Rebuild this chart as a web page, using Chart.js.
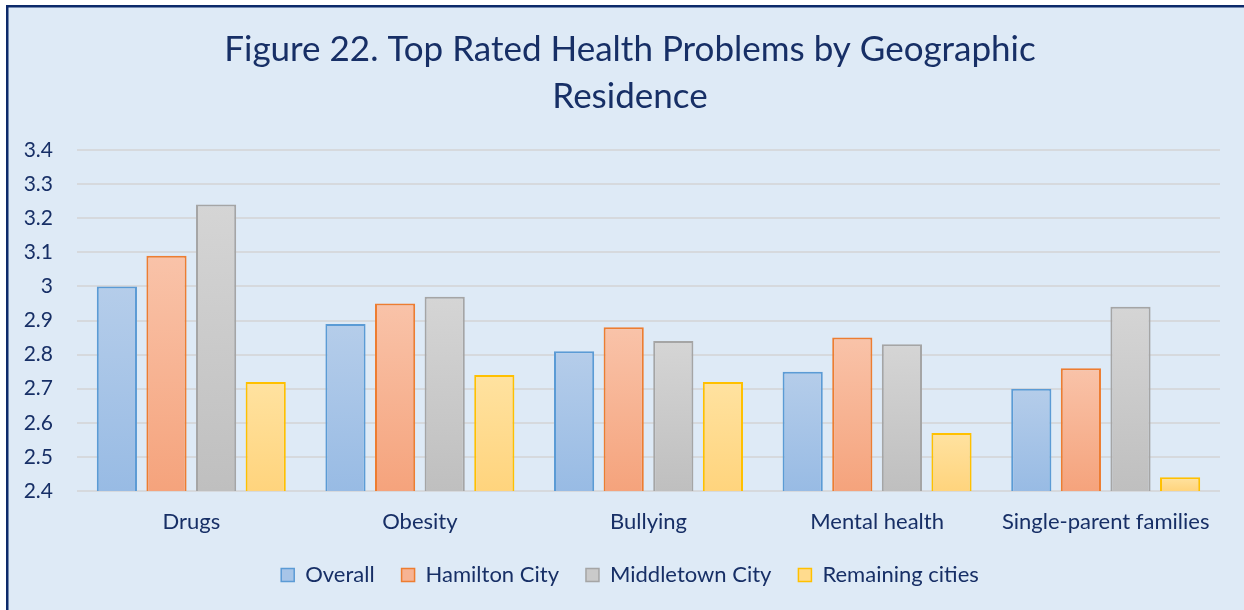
<!DOCTYPE html>
<html>
<head>
<meta charset="utf-8">
<script src="https://cdn.jsdelivr.net/npm/chart.js@4.4.0/dist/chart.umd.min.js"></script>
<style>
  html, body { margin: 0; padding: 0; background: #ffffff; }
  #wrap { position: relative; width: 1244px; height: 610px; }
</style>
</head>
<body>
<div id="wrap"><canvas id="c" width="1244" height="610"></canvas></div>
<script>
const titleLines = ["Figure 22. Top Rated Health Problems by Geographic", "Residence"];
const categories = ["Drugs", "Obesity", "Bullying", "Mental health", "Single-parent families"];
const seriesNames = ["Overall", "Hamilton City", "Middletown City", "Remaining cities"];
const overall = [3.00, 2.89, 2.81, 2.75, 2.70];
const hamilton = [3.09, 2.95, 2.88, 2.85, 2.76];
const middletown = [3.24, 2.97, 2.84, 2.83, 2.94];
const remaining = [2.72, 2.74, 2.72, 2.57, 2.44];
const yMin = 2.4, yMax = 3.4, yStep = 0.1;

const FONT = "Lato";
const NAVY = "#172f66";
const palette = [
  { top: "#b5cdea", bottom: "#98bbe4", border: "#5b9bd5", solid: "#a7c5e8" },
  { top: "#f9c3a9", bottom: "#f5a37c", border: "#ed7d31", solid: "#f7b393" },
  { top: "#d5d5d5", bottom: "#bfbfbf", border: "#a5a5a5", solid: "#cacaca" },
  { top: "#ffe2a0", bottom: "#ffd47d", border: "#ffc000", solid: "#ffdb8e" }
];

function barGradient(idx) {
  return function (context) {
    const chart = context.chart;
    const ys = chart.scales && chart.scales.y;
    if (!ys || context.type !== "data") return palette[idx].solid;
    const v = context.raw;
    const yTop = ys.getPixelForValue(v);
    const yBot = ys.getPixelForValue(yMin);
    if (!isFinite(yTop) || !isFinite(yBot) || yTop === yBot) return palette[idx].solid;
    const g = chart.ctx.createLinearGradient(0, yTop, 0, yBot);
    g.addColorStop(0, palette[idx].top);
    g.addColorStop(1, palette[idx].bottom);
    return g;
  };
}

const bgPlugin = {
  id: "bgPlugin",
  beforeDraw(chart) {
    const ctx = chart.ctx;
    ctx.save();
    ctx.fillStyle = "#ffffff";
    ctx.fillRect(0, 0, chart.width, chart.height);
    ctx.fillStyle = "#DEEAF6";
    ctx.fillRect(6, 5, chart.width - 6, chart.height - 5);
    ctx.fillStyle = "#0d2a6a";
    ctx.fillRect(6, 5, chart.width - 6, 2.5);
    ctx.fillRect(6, 5, 2.5, chart.height - 5);
    ctx.restore();
  }
};

const allSeries = [overall, hamilton, middletown, remaining];
const datasets = allSeries.map((arr, i) => ({
  label: seriesNames[i],
  data: arr,
  backgroundColor: barGradient(i),
  borderColor: palette[i].border,
  borderWidth: 2,
  borderSkipped: false,
  categoryPercentage: 0.868,
  barPercentage: 0.81
}));

new Chart(document.getElementById("c"), {
  type: "bar",
  data: { labels: categories, datasets },
  plugins: [bgPlugin],
  options: {
    responsive: false,
    animation: false,
    devicePixelRatio: 1,
    layout: { padding: { left: 24, right: 8, top: 0, bottom: 14 } },
    plugins: {
      title: {
        display: true,
        text: titleLines,
        color: NAVY,
        font: { family: FONT, size: 35, weight: "normal", lineHeight: 47 / 35 },
        padding: { top: 26.5, bottom: 29.5 }
      },
      legend: {
        position: "bottom",
        labels: {
          color: NAVY,
          font: { family: FONT, size: 22 },
          boxWidth: 13,
          boxHeight: 13,
          padding: 27,
          generateLabels(chart) {
            return chart.data.datasets.map((ds, i) => ({
              text: ds.label,
              fillStyle: palette[i].solid,
              strokeStyle: palette[i].border,
              lineWidth: 1.5,
              datasetIndex: i,
              hidden: false,
              fontColor: NAVY
            }));
          }
        }
      },
      tooltip: { enabled: false }
    },
    scales: {
      x: {
        grid: { display: false, drawTicks: false },
        border: { display: false },
        ticks: { color: NAVY, font: { family: FONT, size: 22 }, padding: 18, maxRotation: 0 },
        afterFit(scale) { scale.height = 46; }
      },
      y: {
        min: yMin,
        max: yMax,
        grid: { color: "#d6d9dd", lineWidth: 2, drawTicks: false },
        border: { display: false },
        ticks: {
          stepSize: yStep,
          color: NAVY,
          font: { family: FONT, size: 21 },
          padding: 24,
          callback(v) { return Math.round(v * 10) / 10; }
        },
        afterFit(scale) { scale.width = 53; }
      },
      yRight: {
        type: "linear",
        position: "right",
        display: true,
        grid: { display: false, drawTicks: false },
        border: { display: false },
        ticks: { display: false },
        afterFit(scale) { scale.width = 16; }
      }
    }
  }
});
</script>
</body>
</html>
